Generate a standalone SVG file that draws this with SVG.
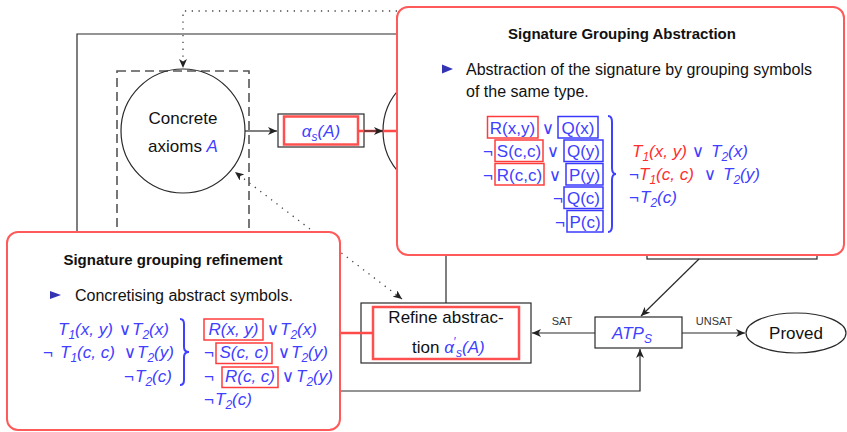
<svg xmlns="http://www.w3.org/2000/svg" width="847" height="432" viewBox="0 0 847 432">
<defs>
  <marker id="ah" markerWidth="10" markerHeight="8" refX="9" refY="4" orient="auto-start-reverse" markerUnits="userSpaceOnUse">
    <path d="M0,0 L9,4 L0,8 L2.5,4 Z" fill="#222"/>
  </marker>
</defs>
<style>
  text { font-family: "Liberation Sans", "DejaVu Sans", sans-serif; }
  .n { font-size: 17px; fill: #111; }
  .b { fill: #4040ff; }
  .r { fill: #ff2e2e; }
  .it { font-style: italic; }
  .f { font-size: 17px; }
  .sm { font-size: 11px; fill: #333; }
  .ttl { font-size: 15px; font-weight: bold; fill: #111; }
  .body { font-size: 16px; fill: #111; }
  .ln { fill: none; stroke: #2a2a2a; stroke-width: 1.2; }
  .dot { fill: none; stroke: #444; stroke-width: 1.3; stroke-dasharray: 1.3 5.5; }
  .dash { fill: none; stroke: #555; stroke-width: 1.6; stroke-dasharray: 9 5; }
  .call { fill: #fff; stroke: #ff5a5a; stroke-width: 2; }
  .hl { fill: none; stroke: #ff5050; stroke-width: 2.5; }
  .redln { fill: none; stroke: #ff4a4a; stroke-width: 2.5; }
  .rb { fill: none; stroke: #ff3c3c; stroke-width: 1.5; }
  .bb { fill: none; stroke: #3a3aff; stroke-width: 1.5; }
  .brace { fill: none; stroke: #4040ff; stroke-width: 2; }
  .bul { fill: #3333b3; }
</style>

<!-- connectors -->
<g id="connectors">
  <path class="ln" d="M430,34 H77 V391 H640 V349" marker-end="url(#ah)"/>
  <path class="ln" d="M245,131 H277" marker-end="url(#ah)"/>
  <path class="ln" d="M446,255 V303"/>
  <path class="ln" d="M699,259 L641,316" marker-end="url(#ah)"/>
  <path class="ln" d="M595,333 H532" marker-end="url(#ah)"/>
  <path class="ln" d="M682,333 H745" marker-end="url(#ah)"/>
  <path class="dot" d="M397,11 H183 V68" marker-end="url(#ah)"/>
  <path class="dot" d="M402,299 L235,172" marker-start="url(#ah)" marker-end="url(#ah)"/>
  <text class="sm" x="562" y="325" text-anchor="middle">SAT</text>
  <text class="sm" x="714" y="325" text-anchor="middle">UNSAT</text>
</g>

<!-- concrete axioms -->
<g id="concrete">
  <rect class="dash" x="117" y="71" width="132" height="240"/>
  <circle class="ln" cx="183" cy="131" r="62"/>
  <text class="n" x="183" y="124" text-anchor="middle">Concrete</text>
  <text class="n" x="183" y="152" text-anchor="middle">axioms <tspan class="b it">A</tspan></text>
</g>

<g id="abstract-axioms">
  <circle class="ln" cx="445" cy="131" r="62"/>
</g>

<g id="alpha">
  <rect class="ln" x="278" y="114" width="86" height="33"/>
  <rect class="hl" x="284" y="116.5" width="74" height="28"/>
  <text class="n b it" x="321" y="137" text-anchor="middle">α<tspan font-size="12" dy="4">s</tspan><tspan dy="-4">(A)</tspan></text>
</g>
<g id="alpha-links">
  <path class="redln" d="M358,131 H397"/>
  <path class="ln" d="M364,131 H383" marker-end="url(#ah)"/>
</g>

<g id="hidden-box">
  <rect class="ln" x="647" y="200" width="170" height="59"/>
</g>

<g id="refine">
  <rect class="ln" x="361" y="303" width="170" height="60"/>
  <rect class="hl" x="373" y="307" width="146" height="52"/>
  <text class="n" x="446" y="323" text-anchor="middle">Refine abstrac-</text>
  <text class="n" x="412" y="353">tion <tspan class="b it">α</tspan><tspan class="b" font-size="12" dy="-7">′</tspan><tspan class="b it" font-size="12" dy="11">s</tspan><tspan class="b it" dy="-4">(A)</tspan></text>
  <path class="redln" d="M340,333 H373"/>
</g>

<g id="atp">
  <rect class="ln" x="595" y="317" width="87" height="31"/>
  <text class="n b it" x="632" y="339" text-anchor="middle">ATP<tspan font-size="12" dy="4">S</tspan></text>
</g>

<g id="proved">
  <ellipse class="ln" cx="796" cy="333" rx="50" ry="20"/>
  <text class="n" x="796" y="339" text-anchor="middle">Proved</text>
</g>

<!-- abstraction callout -->
<g id="callout-abstraction">
  <rect class="call" x="397" y="7" width="447" height="248" rx="11"/>
  <text class="ttl" x="622" y="39" text-anchor="middle">Signature Grouping Abstraction</text>
  <polygon class="bul" points="442,64.5 453,69 442,73.5"/>
  <text class="body" x="466" y="75">Abstraction of the signature by grouping symbols</text>
  <text class="body" x="466" y="97">of the same type.</text>

  <rect class="rb" x="487.5" y="116.5" width="50.5" height="21.5"/>
  <rect class="bb" x="558" y="116.5" width="40" height="21.5"/>
  <rect class="rb" x="495" y="140" width="48" height="21.5"/>
  <rect class="bb" x="564" y="140" width="39" height="21.5"/>
  <rect class="rb" x="495" y="163.5" width="49" height="21.5"/>
  <rect class="bb" x="566" y="163.5" width="37" height="21.5"/>
  <rect class="bb" x="564" y="187" width="39" height="21.5"/>
  <rect class="bb" x="567" y="210.5" width="36" height="21.5"/>

  <g class="f b">
    <text x="512.5" y="133.5" text-anchor="middle">R(x,y)</text>
    <text x="548" y="133.5" text-anchor="middle">∨</text>
    <text x="578" y="133.5" text-anchor="middle">Q(x)</text>
    <text x="488" y="157" text-anchor="middle">¬</text>
    <text x="519" y="157" text-anchor="middle">S(c,c)</text>
    <text x="553" y="157" text-anchor="middle">∨</text>
    <text x="583.5" y="157" text-anchor="middle">Q(y)</text>
    <text x="488" y="180.5" text-anchor="middle">¬</text>
    <text x="519.5" y="180.5" text-anchor="middle">R(c,c)</text>
    <text x="555" y="180.5" text-anchor="middle">∨</text>
    <text x="584.5" y="180.5" text-anchor="middle">P(y)</text>
    <text x="558" y="204" text-anchor="middle">¬</text>
    <text x="583.5" y="204" text-anchor="middle">Q(c)</text>
    <text x="560" y="227.5" text-anchor="middle">¬</text>
    <text x="585" y="227.5" text-anchor="middle">P(c)</text>
  </g>
  <path class="brace" d="M608,116 Q612,116 612,122 L612,168 Q612,174 616,174 Q612,174 612,180 L612,226 Q612,232 608,232"/>

  <g class="f">
    <text class="r it" x="632" y="157">T<tspan font-size="12" dy="4">1</tspan><tspan dy="-4">(x, y)</tspan></text>
    <text class="b" x="698" y="157" text-anchor="middle">∨</text>
    <text class="b it" x="711" y="157">T<tspan font-size="12" dy="4">2</tspan><tspan dy="-4">(x)</tspan></text>
    <text class="b" x="629" y="180">¬</text>
    <text class="r it" x="639" y="180">T<tspan font-size="12" dy="4">1</tspan><tspan dy="-4">(c, c)</tspan></text>
    <text class="b" x="710" y="180" text-anchor="middle">∨</text>
    <text class="b it" x="723" y="180">T<tspan font-size="12" dy="4">2</tspan><tspan dy="-4">(y)</tspan></text>
    <text class="b" x="629" y="203">¬</text>
    <text class="b it" x="640" y="203">T<tspan font-size="12" dy="4">2</tspan><tspan dy="-4">(c)</tspan></text>
  </g>
</g>

<!-- refinement callout -->
<g id="callout-refinement">
  <rect class="call" x="7" y="232" width="333" height="198" rx="11"/>
  <text class="ttl" x="173" y="265" text-anchor="middle">Signature grouping refinement</text>
  <polygon class="bul" points="50,291 61,295 50,299"/>
  <text class="body" x="75" y="301">Concretising abstract symbols.</text>

  <g class="f b">
    <text class="it" x="58" y="335">T<tspan font-size="12" dy="4">1</tspan><tspan dy="-4">(x, y)</tspan></text>
    <text x="125" y="335" text-anchor="middle">∨</text>
    <text class="it" x="132" y="335">T<tspan font-size="12" dy="4">2</tspan><tspan dy="-4">(x)</tspan></text>

    <text x="43" y="358">¬</text>
    <text class="it" x="60" y="358">T<tspan font-size="12" dy="4">1</tspan><tspan dy="-4">(c, c)</tspan></text>
    <text x="130" y="358" text-anchor="middle">∨</text>
    <text class="it" x="137" y="358">T<tspan font-size="12" dy="4">2</tspan><tspan dy="-4">(y)</tspan></text>

    <text x="124" y="382">¬</text>
    <text class="it" x="135" y="382">T<tspan font-size="12" dy="4">2</tspan><tspan dy="-4">(c)</tspan></text>
  </g>
  <path class="brace" d="M180,319 Q184,319 184,324 L184,347 Q184,352 189,352 Q184,352 184,357 L184,380 Q184,385 180,385"/>

  <rect class="rb" x="204" y="319" width="59" height="21"/>
  <rect class="rb" x="216" y="343" width="56" height="20.5"/>
  <rect class="rb" x="222" y="367" width="56" height="20.5"/>
  <g class="f b">
    <text class="it" x="233.5" y="335" text-anchor="middle">R(x, y)</text>
    <text x="273" y="335" text-anchor="middle">∨</text>
    <text class="it" x="280" y="335">T<tspan font-size="12" dy="4">2</tspan><tspan dy="-4">(x)</tspan></text>

    <text x="204" y="358">¬</text>
    <text class="it" x="244" y="358" text-anchor="middle">S(c, c)</text>
    <text x="284" y="358" text-anchor="middle">∨</text>
    <text class="it" x="291" y="358">T<tspan font-size="12" dy="4">2</tspan><tspan dy="-4">(y)</tspan></text>

    <text x="204" y="382">¬</text>
    <text class="it" x="250" y="382" text-anchor="middle">R(c, c)</text>
    <text x="288" y="382" text-anchor="middle">∨</text>
    <text class="it" x="296" y="382">T<tspan font-size="12" dy="4">2</tspan><tspan dy="-4">(y)</tspan></text>

    <text x="204" y="405">¬</text>
    <text class="it" x="215" y="405">T<tspan font-size="12" dy="4">2</tspan><tspan dy="-4">(c)</tspan></text>
  </g>
</g>
</svg>
